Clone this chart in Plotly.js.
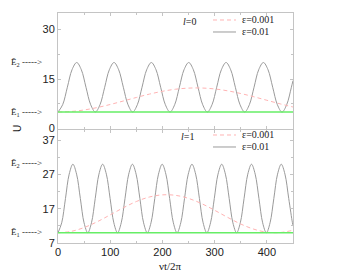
<!DOCTYPE html>
<html>
<head>
<meta charset="utf-8">
<script src="https://cdn.plot.ly/plotly-3.0.1.min.js"></script>
<style>html,body{margin:0;padding:0;background:#fff;}#chart{width:354px;height:273px;}</style>
</head>
<body>
<div id="chart"></div>
<script>
// ---- data ----
// top panel (l=0)
var topFastX = [0,8.9,17.9,26.8,35.8,44.7,53.6,62.6,71.5,80.4,89.4,98.3,107.3,116.2,125.1,134.1,143.0,151.9,160.9,169.8,178.8,187.7,196.6,205.6,214.5,223.4,232.4,241.3,250.3,259.2,268.1,277.1,286.0,294.9,303.9,312.8,321.8,330.7,339.6,348.6,357.5,366.4,375.4,384.3,393.3,402.2,411.1,420.1,429.0,437.9,446.9,450];
var topFastY = [5,7.2,12.5,17.8,20,17.8,12.5,7.2,5,7.2,12.5,17.8,20,17.8,12.5,7.2,5,7.2,12.5,17.8,20,17.8,12.5,7.2,5,7.2,12.5,17.8,20,17.8,12.5,7.2,5,7.2,12.5,17.8,20,17.8,12.5,7.2,5,7.2,12.5,17.8,20,17.8,12.5,7.2,5,7.2,12.5,14.5];
var topSlowX = [0,25,50,75,100,125,150,175,200,225,250,275,300,325,350,375,400,425,450];
var topSlowY = [5,5.16,5.62,6.35,7.28,8.33,9.40,10.42,11.27,11.90,12.24,12.27,11.99,11.41,10.60,9.62,8.55,7.49,6.52];
var topE1X = [0,450];
var topE1Y = [5,5];
// bottom panel (l=1)
var botFastX = [0,7.1,14.3,21.4,28.5,35.6,42.8,49.9,57.0,64.1,71.3,78.4,85.5,92.6,99.8,106.9,114.0,121.1,128.3,135.4,142.5,149.6,156.8,163.9,171.0,178.1,185.3,192.4,199.5,206.6,213.8,220.9,228.0,235.1,242.3,249.4,256.5,263.6,270.8,277.9,285.0,292.1,299.3,306.4,313.5,320.6,327.8,334.9,342.0,349.1,356.3,363.4,370.5,377.6,384.8,391.9,399.0,406.1,413.3,420.4,427.5,434.6,441.8,448.9,450];
var botFastY = [10,12.9,20,27.1,30,27.1,20,12.9,10,12.9,20,27.1,30,27.1,20,12.9,10,12.9,20,27.1,30,27.1,20,12.9,10,12.9,20,27.1,30,27.1,20,12.9,10,12.9,20,27.1,30,27.1,20,12.9,10,12.9,20,27.1,30,27.1,20,12.9,10,12.9,20,27.1,30,27.1,20,12.9,10,12.9,20,27.1,30,27.1,20,12.9,12.1];
var botSlowX = [0,25,50,75,100,125,150,175,200,225,250,275,300,325,350,375,400,425,450];
var botSlowY = [10,10.39,11.51,13.20,15.22,17.28,19.11,20.43,21.06,20.92,20.02,18.50,16.55,14.47,12.54,11.04,10.16,10.05,10.72];
var botE1X = [0,450];
var botE1Y = [10,10];

var xTickVals = [0,100,200,300,400];
var topYTickVals = [0,15,30];
var botYTickVals = [7,17,27,37];
var seriesNames = ['\u03b5=0.001','\u03b5=0.01'];
var E2top = 20, E1top = 5, E2bot = 30.3, E1bot = 10;

// ---- styles ----
var fastColor = '#9a9a9a', slowColor = '#ffb3b3', greenColor = '#66ee66';
var frame = '#c4c4c4';
var tickFont = {family: 'Liberation Sans, Arial, sans-serif', size: 11, color: '#222'};
var serif = 'Liberation Serif, Times New Roman, serif';

function fast(x, y, xa, ya) {
  return {x: x, y: y, xaxis: xa, yaxis: ya, mode: 'lines', type: 'scatter',
    line: {color: fastColor, width: 1, shape: 'spline'}, showlegend: false, hoverinfo: 'skip'};
}
function slow(x, y, xa, ya) {
  return {x: x, y: y, xaxis: xa, yaxis: ya, mode: 'lines', type: 'scatter',
    line: {color: slowColor, width: 1, dash: '4px,3px', shape: 'spline'}, showlegend: false, hoverinfo: 'skip'};
}
function green(x, y, xa, ya) {
  return {x: x, y: y, xaxis: xa, yaxis: ya, mode: 'lines', type: 'scatter',
    line: {color: greenColor, width: 1.5}, showlegend: false, hoverinfo: 'skip'};
}

var data = [
  fast(topFastX, topFastY, 'x', 'y'),
  slow(topSlowX, topSlowY, 'x', 'y'),
  green(topE1X, topE1Y, 'x', 'y'),
  fast(botFastX, botFastY, 'x2', 'y2'),
  slow(botSlowX, botSlowY, 'x2', 'y2'),
  green(botE1X, botE1Y, 'x2', 'y2')
];

function xax(anchor, labels) {
  return {anchor: anchor, domain: [0, 1], range: [0, 450], tickvals: xTickVals,
    showticklabels: labels, ticks: 'inside', ticklen: 3, tickcolor: frame, tickwidth: 1,
    minor: {dtick: 50, tick0: 0, ticks: 'inside', ticklen: 2, tickcolor: frame},
    showline: true, linecolor: frame, linewidth: 1, mirror: 'ticks',
    showgrid: false, zeroline: false, tickfont: tickFont, ticklabelstandoff: -1};
}
function yax(anchor, dom, rng, tv, mdt, m0) {
  return {anchor: anchor, domain: dom, range: rng, tickvals: tv,
    ticks: 'inside', ticklen: 3, tickcolor: frame, tickwidth: 1,
    minor: {dtick: mdt, tick0: m0, ticks: 'inside', ticklen: 2, tickcolor: frame},
    showline: true, linecolor: frame, linewidth: 1, mirror: 'ticks',
    showgrid: false, zeroline: false, tickfont: tickFont};
}

// legend helpers (paper coords)
var lx0 = 0.6596, lx1 = 0.7574, ltx = 0.7745;
var legRows = [0.9696, 0.9174, 0.4696, 0.4174];
var shapes = [];
var annotations = [];
legRows.forEach(function (yy, i) {
  var dashed = (i % 2 === 0);
  shapes.push({type: 'line', xref: 'paper', yref: 'paper', x0: lx0, x1: lx1, y0: yy, y1: yy,
    line: {color: dashed ? slowColor : fastColor, width: 1, dash: dashed ? '4px,3px' : 'solid'}});
  annotations.push({xref: 'paper', yref: 'paper', x: ltx, y: yy, xanchor: 'left', yanchor: 'middle',
    showarrow: false, text: seriesNames[i % 2], font: {family: serif, size: 10, color: '#222'}});
});
annotations.push({xref: 'paper', yref: 'paper', x: 0.5617, y: 0.9652, xanchor: 'center', yanchor: 'middle',
  showarrow: false, text: '<i>l</i>=0', font: {family: serif, size: 10, color: '#222'}});
annotations.push({xref: 'paper', yref: 'paper', x: 0.549, y: 0.4652, xanchor: 'center', yanchor: 'middle',
  showarrow: false, text: '<i>l</i>=1', font: {family: serif, size: 10, color: '#222'}});
var eFont = {family: serif, size: 9, color: '#222'};
[['y', E2top, '2'], ['y', E1top, '1'], ['y2', E2bot, '2'], ['y2', E1bot, '1']].forEach(function (e) {
  annotations.push({xref: 'paper', yref: e[0], x: -0.058, y: e[1], xanchor: 'right', yanchor: 'middle',
    showarrow: false, text: '\u1EBC<sub>' + e[2] + '</sub> -----&gt;', font: eFont});
});
annotations.push({xref: 'paper', yref: 'paper', x: -0.175, y: 0.5, xanchor: 'center', yanchor: 'middle',
  showarrow: false, textangle: -90, text: 'U', font: {family: 'Liberation Sans, Arial, sans-serif', size: 10, color: '#222'}});
annotations.push({xref: 'paper', yref: 'paper', x: 0.477, y: -0.1, xanchor: 'center', yanchor: 'middle',
  showarrow: false, text: '\u03bdt/2\u03c0', font: {family: serif, size: 11, color: '#222'}});

var layout = {
  width: 354, height: 273,
  margin: {l: 58, r: 61, t: 13, b: 30, pad: 0},
  paper_bgcolor: '#fff', plot_bgcolor: '#fff',
  showlegend: false,
  xaxis: xax('y', false),
  yaxis: yax('x', [0.4978, 1], [0, 35], topYTickVals, 7.5, 0),
  xaxis2: xax('y2', true),
  yaxis2: yax('x2', [0, 0.4913], [7, 40], botYTickVals, 5, 7),
  shapes: shapes,
  annotations: annotations
};

Plotly.newPlot('chart', data, layout, {displayModeBar: false, staticPlot: true});
</script>
</body>
</html>
